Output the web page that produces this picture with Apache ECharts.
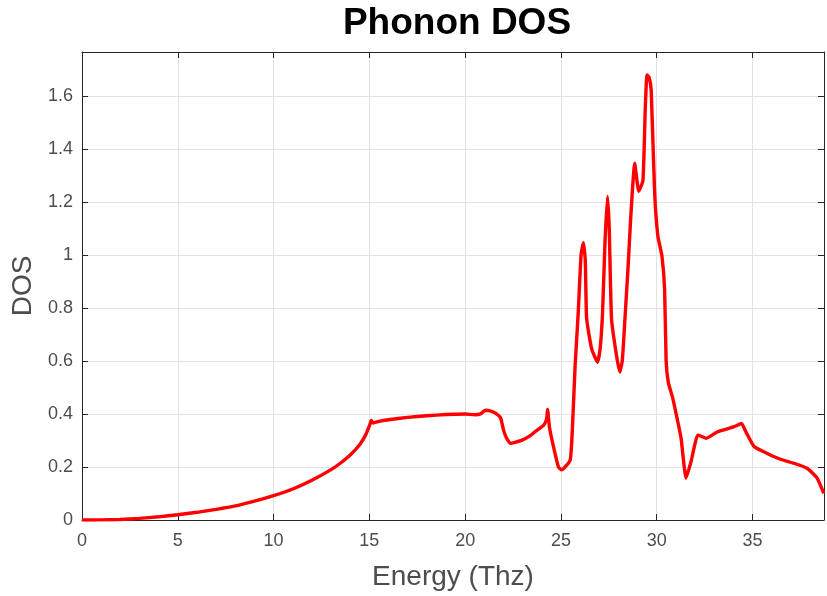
<!DOCTYPE html>
<html>
<head>
<meta charset="utf-8">
<script src="https://cdn.jsdelivr.net/npm/echarts@6/dist/echarts.min.js"></script>
<style>html,body{margin:0;padding:0;background:#fff}#c{width:827px;height:596px}</style>
</head>
<body>
<div id="c"></div>
<script>
var energy = [0, 1, 2, 3, 4, 5, 6, 7, 8, 9, 10, 11, 12, 13, 13.5, 14, 14.5, 14.8, 15.0, 15.1, 15.2, 15.5, 16, 17, 18, 19, 20, 20.5, 20.8, 21.05, 21.3, 21.6, 21.85, 22.0, 22.15, 22.36, 22.6, 23.0, 23.4, 23.6, 24.1, 24.25, 24.3, 24.4, 24.6, 24.87, 25.04, 25.48, 25.6, 25.74, 25.9, 26.05, 26.17, 26.27, 26.34, 26.6, 26.91, 27.05, 27.17, 27.3, 27.43, 27.52, 27.64, 27.9, 28.07, 28.2, 28.33, 28.5, 28.65, 28.85, 29.06, 29.28, 29.4, 29.49, 29.6, 29.71, 29.89, 30.06, 30.27, 30.41, 30.49, 30.6, 30.84, 31.1, 31.27, 31.53, 31.79, 32.14, 32.35, 32.57, 33.18, 34.04, 34.42, 34.65, 35.08, 35.77, 36.46, 37.16, 37.85, 38.37, 38.72];
var dos = [0, 0.0005, 0.002, 0.006, 0.012, 0.02, 0.029, 0.040, 0.053, 0.071, 0.092, 0.117, 0.150, 0.190, 0.215, 0.245, 0.285, 0.32, 0.355, 0.375, 0.366, 0.372, 0.378, 0.387, 0.393, 0.398, 0.400, 0.397, 0.400, 0.414, 0.412, 0.402, 0.385, 0.34, 0.31, 0.289, 0.293, 0.302, 0.318, 0.33, 0.358, 0.38, 0.417, 0.35, 0.28, 0.20, 0.189, 0.226, 0.35, 0.583, 0.78, 1.0, 1.046, 0.98, 0.76, 0.646, 0.595, 0.65, 0.78, 1.05, 1.22, 1.1, 0.758, 0.62, 0.558, 0.6, 0.746, 0.95, 1.15, 1.346, 1.24, 1.28, 1.55, 1.678, 1.67, 1.62, 1.234, 1.07, 0.996, 0.87, 0.6, 0.52, 0.458, 0.37, 0.308, 0.158, 0.22, 0.32, 0.315, 0.308, 0.333, 0.352, 0.364, 0.333, 0.277, 0.251, 0.229, 0.214, 0.195, 0.158, 0.10];
var xTicks = [0, 5, 10, 15, 20, 25, 30, 35];
var yTicks = [0, 0.2, 0.4, 0.6, 0.8, 1, 1.2, 1.4, 1.6];

var XMAX = 38.73, YMAX = 1.765;
var pts = energy.map(function (e, i) { return [e, dos[i]]; });
function isTick(list, v) { return list.some(function (t) { return Math.abs(t - v) < 1e-6; }); }

var axisCol = '#262626', labelCol = '#4d4d4d', gridCol = '#e3e3e3';
var font = 'Liberation Sans, Arial, Helvetica, sans-serif';

var chart = echarts.init(document.getElementById('c'));
chart.setOption({
  animation: false,
  backgroundColor: '#fff',
  title: {
    text: 'Phonon DOS', left: 452, top: 0, textAlign: 'center',
    textStyle: { fontSize: 37, fontWeight: 'bold', color: '#000', fontFamily: font }
  },
  grid: { left: 82, right: 1, top: 52, bottom: 74 },
  xAxis: [{
    type: 'value', min: 0, max: XMAX, interval: 5,
    name: 'Energy (Thz)', nameLocation: 'middle', nameGap: 43,
    nameTextStyle: { fontSize: 28, color: labelCol, fontFamily: font },
    axisLine: { show: true, onZero: false, lineStyle: { color: axisCol, width: 1 } },
    axisTick: { show: true, inside: true, length: 6, lineStyle: { color: axisCol } },
    axisLabel: { show: true, margin: 12, fontSize: 18, color: labelCol, fontFamily: font,
      formatter: function (v) { return isTick(xTicks, v) ? String(v) : ''; } },
    splitLine: { show: true, lineStyle: { color: gridCol, width: 1 } }
  }, {
    type: 'value', position: 'top', min: 0, max: XMAX, interval: 5,
    axisLine: { show: true, onZero: false, lineStyle: { color: axisCol, width: 1 } },
    axisTick: { show: true, inside: true, length: 6, lineStyle: { color: axisCol } },
    axisLabel: { show: false }, splitLine: { show: false }
  }],
  yAxis: [{
    type: 'value', min: 0, max: YMAX, interval: 0.2,
    name: 'DOS', nameLocation: 'middle', nameGap: 43,
    nameTextStyle: { fontSize: 28, color: labelCol, fontFamily: font },
    axisLine: { show: true, onZero: false, lineStyle: { color: axisCol, width: 1 } },
    axisTick: { show: true, inside: true, length: 6, lineStyle: { color: axisCol } },
    axisLabel: { show: true, margin: 9, fontSize: 18, color: labelCol, fontFamily: font,
      formatter: function (v) { return isTick(yTicks, Math.round(v * 1000) / 1000) ? String(Math.round(v * 10) / 10) : ''; } },
    splitLine: { show: true, lineStyle: { color: gridCol, width: 1 } }
  }, {
    type: 'value', position: 'right', min: 0, max: YMAX, interval: 0.2,
    axisLine: { show: true, onZero: false, lineStyle: { color: axisCol, width: 1 } },
    axisTick: { show: true, inside: true, length: 6, lineStyle: { color: axisCol } },
    axisLabel: { show: false }, splitLine: { show: false }
  }],
  series: [{
    type: 'line', data: pts, showSymbol: false, smooth: 0.15,
    lineStyle: { color: '#ff0000', width: 3.4 }, clip: true
  }]
});
</script>
</body>
</html>
